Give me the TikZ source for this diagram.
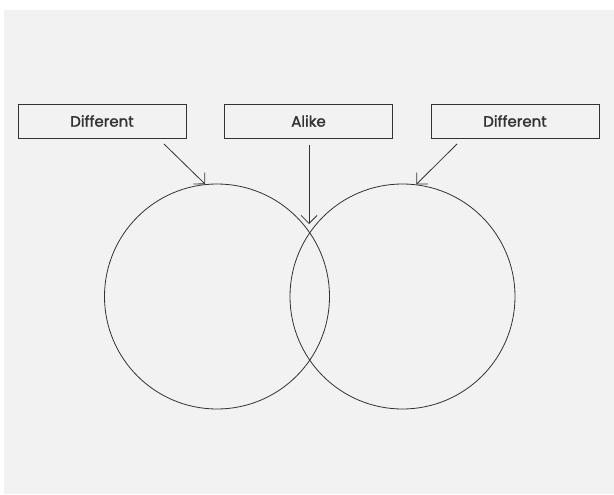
\documentclass[tikz,border=0pt]{standalone}
\usepackage{fontspec}
\setmainfont{Poppins}
\newfontfamily\boxfont[FakeBold=1.6]{Poppins}
\usetikzlibrary{arrows.meta}
\definecolor{bggray}{HTML}{F2F2F2}
\definecolor{ink}{HTML}{333333}

\begin{document}
\begin{tikzpicture}[x=1pt, y=-1pt,
	label box/.style={draw=ink, line width=0.9pt, minimum width=168pt, minimum height=34pt, inner sep=0pt, font=\boxfont\fontsize{15}{17}\selectfont, text=ink},
	ring/.style={draw=ink, line width=0.8pt, circle, minimum size=225pt, inner sep=0pt},
	pointer/.style={draw=ink, line width=0.8pt, -{Straight Barb[length=8pt, width=16pt]}}]
	%background
	\fill[white] (0,0) rectangle (614,495);
	\fill[bggray] (4,10) rectangle (614,494);
	\useasboundingbox (0,0) rectangle (614,495);

	%labels
	\node[label box] (diffL) at (102,121) {Different};
	\node[label box] (alike) at (308.5,121) {Alike};
	\node[label box] (diffR) at (515,121) {Different};

	%circles
	\node[ring] (left) at (217,296.5) {};
	\node[ring] (right) at (402.5,296.5) {};

	%arrows
	\coordinate (startL) at (164,144);
	\coordinate (startM) at (309,145);
	\coordinate (startR) at (457,144);
	\coordinate (overlap) at (309,224);
	\draw[pointer] (startL) -- (left.96);
	\draw[pointer] (startM) -- (overlap);
	\draw[pointer] (startR) -- (right.83);
\end{tikzpicture}
\end{document}
